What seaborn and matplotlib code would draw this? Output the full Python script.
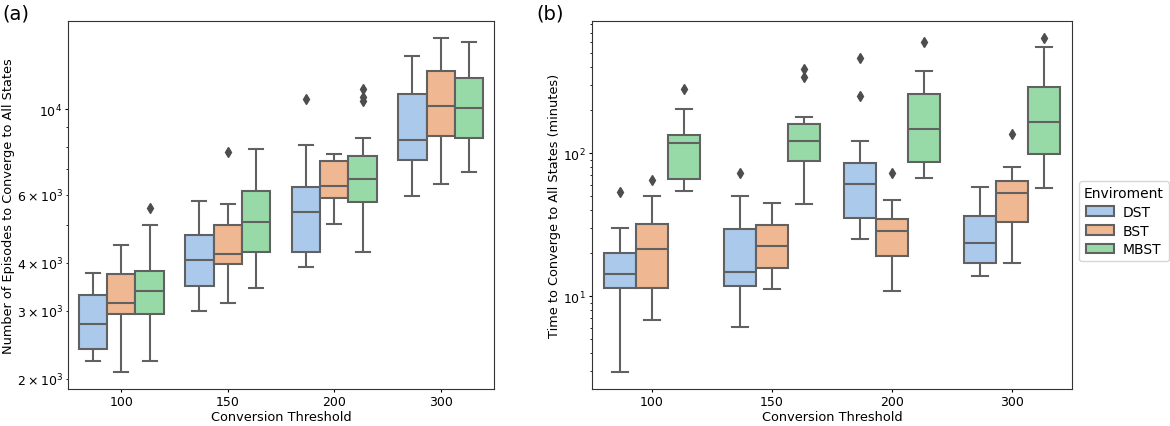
import numpy as np
import pandas as pd
import matplotlib
matplotlib.use("Agg")
import matplotlib.pyplot as plt
import seaborn as sns

thresholds = ["100", "150", "200", "300"]
environments = ["DST", "BST", "MBST"]

# Number of episodes to converge (one list of observations per threshold)
episodes_dst = [
    [2230, 2310, 2385, 2560, 2775, 3010, 3300, 3520, 3765],
    [3005, 3240, 3475, 3760, 4080, 4390, 4715, 5240, 5780],
    [3910, 4080, 4270, 4850, 5425, 5870, 6310, 8110, 10620],
    [5980, 6700, 7415, 7890, 8355, 9600, 11000, 12400, 13750],
]
episodes_bst = [
    [2080, 2520, 2955, 3050, 3155, 3440, 3735, 4100, 4460],
    [3145, 3560, 3975, 4100, 4220, 4620, 5025, 5670, 7745],
    [5035, 5460, 5895, 6120, 6345, 6850, 7355, 7520, 7685],
    [6410, 7470, 8525, 9360, 10200, 11390, 12575, 13970, 15355],
]
episodes_mbst = [
    [2225, 2590, 2955, 3170, 3390, 3600, 3800, 5020, 5560],
    [3450, 3860, 4270, 4690, 5115, 5640, 6160, 7040, 7920],
    [4270, 4650, 5020, 5390, 5760, 5970, 6180, 6400, 6605, 6850, 7100, 7350,
     7595, 8445, 10550, 10750, 11270],
    [6890, 7670, 8445, 9280, 10120, 11090, 12060, 13500, 14955],
]

# Time to converge in minutes
minutes_dst = [
    [2.94, 8.0, 11.5, 12.9, 14.3, 17.2, 20.2, 29.9, 54.0],
    [6.1, 9.0, 11.75, 13.3, 14.9, 21.5, 29.7, 50.3, 73.3],
    [25.0, 28.0, 31.5, 35.1, 43.0, 52.0, 61.4, 68.0, 76.0, 85.1, 121.9, 251.6, 461.6],
    [13.8, 15.4, 17.0, 20.0, 23.6, 29.5, 36.4, 47.0, 58.1],
]
minutes_bst = [
    [6.83, 9.2, 11.5, 16.0, 21.3, 26.5, 32.0, 50.3, 65.1],
    [11.25, 13.5, 15.8, 19.0, 22.4, 27.0, 31.7, 38.0, 45.1],
    [10.9, 14.5, 19.1, 23.5, 28.6, 31.5, 34.9, 46.9, 73.3],
    [17.2, 25.0, 33.1, 43.0, 53.1, 58.5, 64.0, 80.2, 137.3],
]
minutes_mbst = [
    [54.2, 60.0, 66.6, 92.0, 118.8, 126.0, 133.6, 203.0, 280.0],
    [44.5, 60.0, 75.0, 87.9, 100.0, 112.0, 121.9, 135.0, 148.0, 159.5, 179.4, 344.0, 391.0],
    [67.6, 76.0, 86.9, 115.0, 148.8, 200.0, 259.8, 374.5, 600.0],
    [56.9, 76.0, 98.4, 130.0, 166.6, 225.0, 292.7, 557.0, 644.0],
]


def to_long(dst, bst, mbst, name):
    rows = []
    for env, groups in zip(environments, [dst, bst, mbst]):
        for thr, vals in zip(thresholds, groups):
            for v in vals:
                rows.append({"Conversion Threshold": thr, "Enviroment": env, name: v})
    return pd.DataFrame(rows)


df_ep = to_long(episodes_dst, episodes_bst, episodes_mbst, "episodes")
df_min = to_long(minutes_dst, minutes_bst, minutes_mbst, "minutes")

plt.rcParams["font.family"] = ["DejaVu Sans"]
plt.rcParams["font.size"] = 9
plt.rcParams["xtick.labelsize"] = 9
plt.rcParams["ytick.labelsize"] = 9
plt.rcParams["xtick.major.size"] = 2.5
plt.rcParams["ytick.major.size"] = 2.5
plt.rcParams["ytick.minor.size"] = 1.5
plt.rcParams["xtick.major.pad"] = 2
plt.rcParams["ytick.major.pad"] = 2
plt.rcParams["ytick.minor.pad"] = 2
plt.rcParams["axes.labelpad"] = 1.5
plt.rcParams["axes.edgecolor"] = "0.2"

fig = plt.figure(figsize=(11.7, 4.27), dpi=100)
W, H = 1170.0, 427.0
ax1 = fig.add_axes([68 / W, 1 - 390 / H, (494 - 68) / W, (390 - 22) / H])
ax2 = fig.add_axes([592 / W, 1 - 390 / H, (1072 - 592) / W, (390 - 22) / H])

box_kw = dict(
    hue="Enviroment", hue_order=environments, order=thresholds,
    palette="pastel", width=0.8, linecolor="0.38", linewidth=1.5,
    flierprops=dict(marker="d", markerfacecolor="0.3", markeredgecolor="0.3",
                    markersize=5),
)

sns.boxplot(data=df_ep, x="Conversion Threshold", y="episodes", ax=ax1, **box_kw)
sns.boxplot(data=df_min, x="Conversion Threshold", y="minutes", ax=ax2, **box_kw)

for ax in (ax1, ax2):
    ax.set_yscale("log")
    ax.autoscale(axis="y")
    ax.set_xlabel("Conversion Threshold", fontsize=9.3)

ax1.set_ylabel("Number of Episodes to Converge to All States", fontsize=9.3)
ax2.set_ylabel("Time to Converge to All States (minutes)", fontsize=9.3)

ax1.get_legend().remove()
leg = ax2.legend(title="Enviroment", loc="center left",
                 bbox_to_anchor=(1.0, 0.456), fontsize=10, title_fontsize=10,
                 borderaxespad=0.5, borderpad=0.35, handletextpad=0.6,
                 labelspacing=0.35)

fig.text(2 / W, 1 - 14 / H, "(a)", fontsize=14, va="center", ha="left")
fig.text(536 / W, 1 - 14 / H, "(b)", fontsize=14, va="center", ha="left")

fig.savefig("out.png", dpi=100)
